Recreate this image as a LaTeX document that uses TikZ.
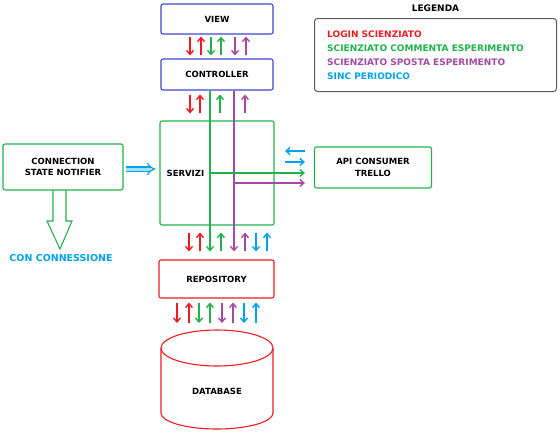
\documentclass[tikz,border=0pt]{standalone}
\usepackage{fontspec}
\setmainfont{DejaVu Sans}
\usetikzlibrary{arrows.meta,positioning}

\definecolor{rosso}{HTML}{ED1C24}
\definecolor{verde}{HTML}{22B14C}
\definecolor{viola}{HTML}{A349A4}
\definecolor{azzurro}{HTML}{00A2E8}
\definecolor{blu}{HTML}{3F48CC}
\definecolor{grigio}{HTML}{5A5A5A}

\tikzset{
  box/.style={draw, rounded corners=2pt, line width=1.1pt, minimum width=112pt,
    font=\bfseries\fontsize{8.5}{11.5}\selectfont, align=center, inner sep=0pt},
  freccia/.style={line width=1.4pt, -{Straight Barb[length=4pt,width=7pt]}},
  legtext/.style={font=\bfseries\fontsize{9}{11}\selectfont, anchor=west, inner sep=0pt}
}

\begin{document}
\begin{tikzpicture}[x=1pt,y=-1pt]
\useasboundingbox (0,0) rectangle (560,432);

\node[box, draw=blu, minimum height=30pt] (view) at (217,19) {VIEW};
\node[box, draw=blu, minimum height=31pt] (ctrl) at (217,74.5) {CONTROLLER};
\node[box, draw=verde, minimum width=114pt, minimum height=104pt] (servizi) at (217,173) {};
\node[font=\bfseries\fontsize{8.5}{11.5}\selectfont, anchor=west, inner sep=0pt] (servizilbl) at ([xshift=7pt]servizi.west) {SERVIZI};
\node[box, draw=rosso, minimum width=115pt, minimum height=38pt] (repo) at (216.5,279) {REPOSITORY};
\node[box, draw=verde, minimum width=120pt, minimum height=46pt] (notifier) at (63,167) {CONNECTION\\STATE NOTIFIER};
\node[box, draw=verde, minimum width=117pt, minimum height=41pt] (api) at (373,167.5) {API CONSUMER\\TRELLO};

% database
\draw[rosso, line width=1.1pt] (217,348) ellipse [x radius=56pt, y radius=18pt];
\draw[rosso, line width=1.1pt] (161,348) -- (161,413) arc[start angle=180, end angle=360, x radius=56pt, y radius=16pt] -- (273,348);
\node[font=\bfseries\fontsize{8.5}{11.5}\selectfont] (db) at (217,391) {DATABASE};
\coordinate (dbtop) at (217,330);

% view <-> controller
\foreach \x/\c in {190/rosso,211/verde,235/viola}
  \draw[freccia,\c,shorten <=2pt,shorten >=3pt] (view.south -| \x,0) -- (ctrl.north -| \x,0);
\foreach \x/\c in {201/rosso,221/verde,246/viola}
  \draw[freccia,\c,shorten <=3pt,shorten >=2pt] (ctrl.north -| \x,0) -- (view.south -| \x,0);

% controller <-> servizi
\draw[freccia,rosso,shorten <=4pt,shorten >=7pt] (ctrl.south -| 190,0) -- (servizi.north -| 190,0);
\foreach \x/\c in {200/rosso,220/verde,245/viola}
  \draw[freccia,\c,shorten <=7pt,shorten >=4pt] (servizi.north -| \x,0) -- (ctrl.south -| \x,0);

% servizi <-> repository
\foreach \x/\c in {189/rosso,256/azzurro}
  \draw[freccia,\c,shorten <=7pt,shorten >=8pt] (servizi.south -| \x,0) -- (repo.north -| \x,0);
\foreach \x/\c in {200/rosso,221/verde,245/viola,267/azzurro}
  \draw[freccia,\c,shorten <=8pt,shorten >=7pt] (repo.north -| \x,0) -- (servizi.south -| \x,0);
\draw[freccia,verde,shorten >=8pt] (ctrl.south -| 210,0) -- (repo.north -| 210,0);
\draw[freccia,viola,shorten >=8pt] (ctrl.south -| 234,0) -- (repo.north -| 234,0);

% servizi <-> api
\coordinate (gbr) at (210,173);
\coordinate (vbr) at (234,183);
\draw[freccia,verde,shorten >=9pt] (gbr) -- (api.west |- gbr);
\draw[freccia,viola,shorten >=9pt] (vbr) -- (api.west |- vbr);
\coordinate (c1) at (285,151);
\coordinate (c2) at (285,162);
\draw[freccia,azzurro,shorten <=9pt] (api.west |- c1) -- (c1);
\draw[freccia,azzurro,shorten >=9pt] (c2) -- (api.west |- c2);

% repository <-> database
\foreach \x/\c in {177/rosso,199/verde,222/viola,244/azzurro}
  \draw[freccia,\c,shorten <=4pt,shorten >=7pt] (repo.south -| \x,0) -- (dbtop -| \x,0);
\foreach \x/\c in {189/rosso,210/verde,233/viola,256/azzurro}
  \draw[freccia,\c,shorten <=7pt,shorten >=4pt] (dbtop -| \x,0) -- (repo.south -| \x,0);

% connection state notifier
\draw[azzurro, line width=1.2pt, double=azzurro!35, double distance=3pt, -{Implies}, shorten >=4pt]
  ([xshift=2pt,yshift=-2pt]notifier.east) -- (servizi.west |- 0,169);
\draw[verde, line width=1.1pt] (53,190) -- (53,221) -- (47,221) -- (60,249) -- (72,221) -- (66,221) -- (66,190);
\node[azzurro, font=\bfseries\fontsize{9.5}{11}\selectfont] (con) at (61,258) {CON CONNESSIONE};

% legenda
\node[draw=grigio, rounded corners=3pt, line width=1pt, minimum width=242pt, minimum height=73pt, anchor=north west] (legenda) at (314,18) {};
\node[font=\bfseries\fontsize{9}{11}\selectfont] (legtitle) at (legenda.north |- 0,8) {LEGENDA};
\foreach \t/\c [count=\i] in {LOGIN SCIENZIATO/rosso,SCIENZIATO COMMENTA ESPERIMENTO/verde,SCIENZIATO SPOSTA ESPERIMENTO/viola,SINC PERIODICO/azzurro}
  \node[legtext,\c] (leg\i) at (327,{20+14*\i}) {\t};
\end{tikzpicture}
\end{document}
